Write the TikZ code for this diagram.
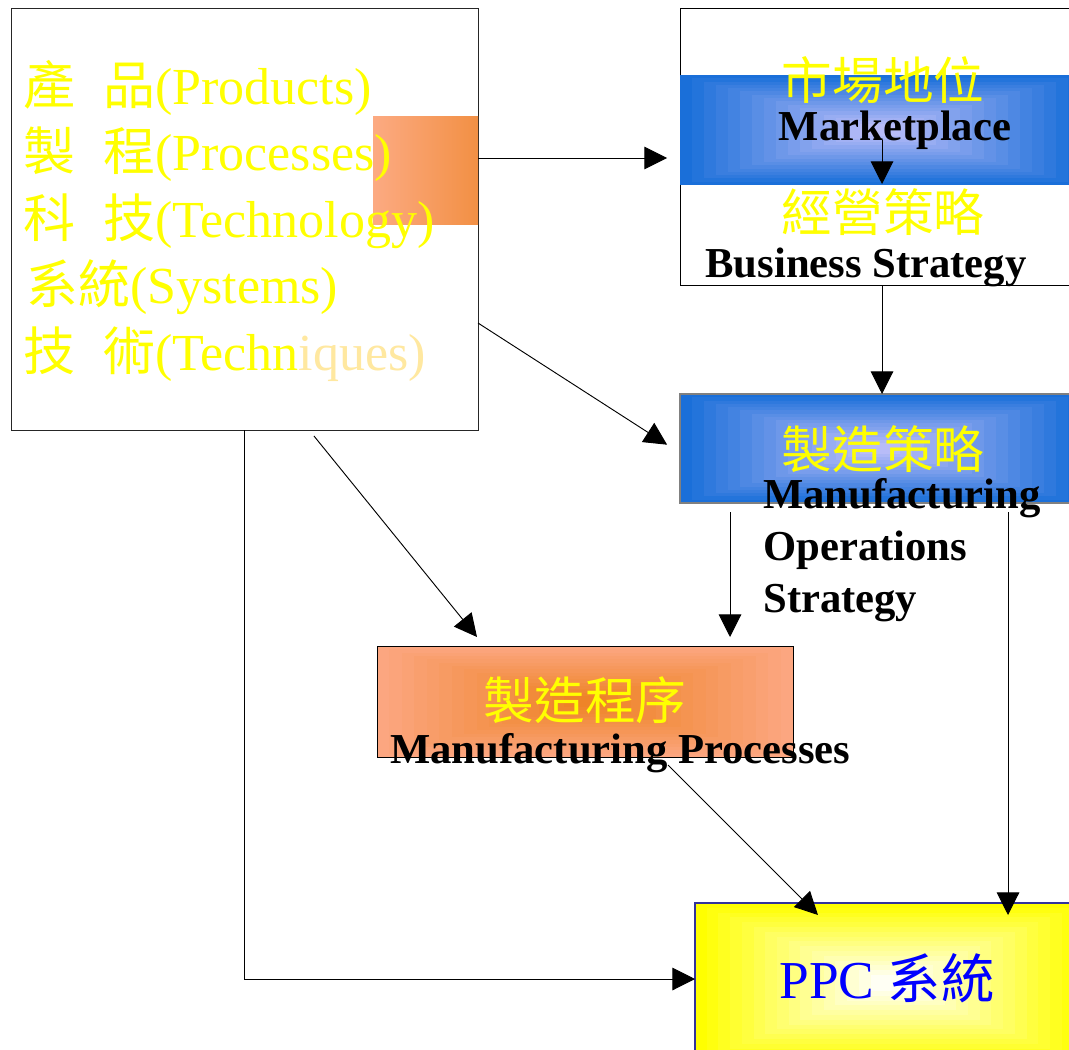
\documentclass[tikz,border=0pt]{standalone}
\usepackage{fontspec}
\setmainfont{Liberation Serif}
\newfontfamily\cjk{Noto Sans CJK TC}
\usetikzlibrary{arrows.meta,calc}
\definecolor{ylw}{HTML}{FFFF00}
\definecolor{paleylw}{HTML}{FFE8A0}
\definecolor{blueO}{HTML}{1A6FD9}
\definecolor{blueI}{HTML}{B8BCF8}
\definecolor{orgO}{HTML}{FCA680}
\definecolor{orgI}{HTML}{EE8428}
\definecolor{stripL}{HTML}{FCAA82}
\definecolor{stripR}{HTML}{F29044}
\definecolor{ppcO}{HTML}{FFFF00}
\definecolor{ppcI}{HTML}{FFFFF4}
\definecolor{ppcB}{HTML}{33339A}
\definecolor{ppcT}{HTML}{0000FF}
\definecolor{midB}{HTML}{808080}
\newcommand{\stepfill}[2]{%
  \foreach \i in {0,...,15}{%
    \pgfmathsetmacro\f{\i*0.03}%
    \pgfmathtruncatemacro\p{\i*100/15}%
    \fill[#2!\p!#1] ($(path picture bounding box.north west)!\f!(path picture bounding box.south east)$) rectangle ($(path picture bounding box.south east)!\f!(path picture bounding box.north west)$);
  }}
\tikzset{
  boxnode/.style={anchor=north west, inner sep=0pt, outer sep=0pt},
  arr/.style={-{Triangle[length=17pt,width=17pt]}, line width=0.7pt},
  cjklbl/.style={anchor=base, inner sep=0pt, text=ylw, font=\cjk\fontsize{38}{44}\selectfont},
  boldlbl/.style={anchor=base, inner sep=0pt, text=black, font=\bfseries\fontsize{32}{39}\selectfont},
  srcline/.style={anchor=base west, inner sep=0pt, text=ylw, font=\fontsize{39}{47}\selectfont},
}
\begin{document}
\begin{tikzpicture}[x=0.75pt,y=-0.75pt]
\clip (0,0) rectangle (1069,1049);
\fill[white] (0,0) rectangle (1069,1049);

% helper coordinates
\coordinate (y158) at (0,158);
\coordinate (y323) at (0,323);
\coordinate (y453) at (0,453);
\coordinate (y979) at (0,979);
\coordinate (h244) at (244,0);
\coordinate (h309) at (309.1,0);
\coordinate (h484) at (484.3,0);
\coordinate (h660) at (660,0);
\coordinate (h806) at (806,0);
\coordinate (h730) at (730,0);
\coordinate (h882) at (882,0);
\coordinate (h1008) at (1008,0);

% left box
\node[boxnode, minimum width=350.25pt, minimum height=316.5pt, draw=black!85, line width=0.7pt, fill=white] (src) at (11,8) {};
\shade[left color=stripL, right color=stripR] (373,116) rectangle (478,224);
\node[srcline] (l1) at (23,104) {{\cjk 產}\hspace{21pt}{\cjk 品}(Products)};
\node[srcline] (l2) at (23,170) {{\cjk 製}\hspace{21pt}{\cjk 程}(Processes)};
\node[srcline] (l3) at (23,237) {{\cjk 科}\hspace{21pt}{\cjk 技}(Technology)};
\node[srcline] (l4) at (26,303) {{\cjk 系統}(Systems)};
\node[srcline] (l5) at (23,370) {{\cjk 技}\hspace{21pt}{\cjk 術}(Techn\textcolor{paleylw}{iques)}};

% top right box
\node[boxnode, minimum width=300pt, minimum height=207.75pt, draw=black, line width=0.7pt, fill=white] (biz) at (680,8) {};
\node[boxnode, minimum width=300pt, minimum height=82.5pt, fill=blueO, path picture={\stepfill{blueO}{blueI}}] (band) at (680,75) {};
\node[cjklbl] (mktc) at (883,99) {市場地位};
\node[boldlbl] (mkt) at (895,140) {Marketplace};
\node[cjklbl] (bizc) at (883,231) {經營策略};
\node[boldlbl] (bizt) at (866,277) {Business Strategy};
\coordinate (m1) at (882,140);
\coordinate (m2) at (882,184);

% manufacturing strategy box
\node[boxnode, minimum width=300pt, minimum height=81.75pt, draw=midB, line width=0.9pt, fill=blueO, path picture={\stepfill{blueO}{blueI}}] (mos) at (680,394) {};
\node[cjklbl] (mosc) at (883,468) {製造策略};
\node[boldlbl, anchor=base west] (most1) at (763,508) {Manufacturing};
\node[boldlbl, anchor=base west] (most2) at (763,560) {Operations};
\node[boldlbl, anchor=base west] (most3) at (763,612) {Strategy};

% manufacturing processes box
\node[boxnode, minimum width=312pt, minimum height=83.25pt, draw=black, line width=0.7pt, fill=orgO, path picture={\stepfill{orgO}{orgI}}] (proc) at (377,646) {};
\node[cjklbl] (procc) at (585,719) {製造程序};
\node[boldlbl, anchor=base west] (proct) at (390,763) {Manufacturing Processes};

% PPC box
\node[boxnode, minimum width=292.5pt, minimum height=120pt, draw=ppcB, line width=0.9pt, fill=ppcO, path picture={\stepfill{ppcO}{ppcI}}] (ppc) at (695,903) {};
\node[anchor=base, inner sep=0pt, text=ppcT, font=\fontsize{40}{48}\selectfont] (ppct) at (887,998) {PPC\hspace{10pt}{\cjk 系統}};

% connectors
\draw[arr] (m1) -- (m2);
\draw[arr, shorten >=9.75pt] (src.east |- y158) -- (biz.west |- y158);
\draw[arr, shorten >=11.5pt] (src.east |- y323) -- (mos.west |- y453);
\draw[arr, shorten <=5.8pt, shorten >=8.7pt] (src.south -| h309) -- (proc.north -| h484);
\draw[arr] (biz.south -| h882) -- (mos.north -| h882);
\draw[arr, shorten <=6.75pt, shorten >=6.75pt] (mos.south -| h730) -- (proc.north -| h730);
\draw[arr, shorten <=6.75pt, shorten >=-9pt] (mos.south -| h1008) -- (ppc.north -| h1008);
\draw[arr, shorten <=8.5pt, shorten >=-12.7pt] (proc.south -| h660) -- (ppc.north -| h806);
\draw[arr] (src.south -| h244) |- (ppc.west |- y979);
\end{tikzpicture}
\end{document}
